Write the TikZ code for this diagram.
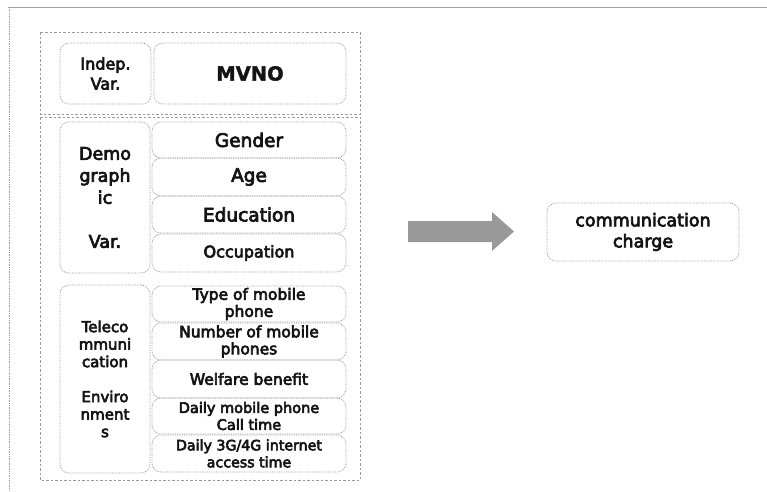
\documentclass[tikz,border=0pt]{standalone}
\usepackage{fontspec}
\setmainfont{DejaVu Sans}[FakeBold=4]
\newfontfamily\heavy{DejaVu Sans Bold}[FakeBold=1.5]
\tikzset{
  box/.style={draw=gray!85, densely dotted, line width=0.75pt, rounded corners=9pt, inner sep=0pt, align=center, text=black!92},
  grp/.style={draw=gray!80, dash pattern=on 2.5pt off 2pt, line width=0.6pt},
  bigarrow/.style={fill=gray!80, draw=none},
}
\begin{document}
\begin{tikzpicture}[x=1pt,y=-1pt]
\useasboundingbox (0,0) rectangle (767,491);
% outer frame
\draw[gray!75, line width=0.8pt] (8,7) -- (767,7);
\draw[gray!75, densely dotted, line width=0.7pt] (9,7) -- (9,491);
% groups
\draw[grp] (40,32) rectangle (360,114);
\draw[grp] (40,117) rectangle (360,480);
% independent
\node[box, minimum width=91pt, minimum height=61pt, font=\fontsize{16}{20}\selectfont] (indep) at (105.5,73.5) {Indep.\\Var.};
\node[box, minimum width=192pt, minimum height=61pt, font=\fontsize{19.5}{24}\heavy] (mvno) at (250,73.5) {MVNO};
% demographic
\node[box, minimum width=90pt, minimum height=151pt, font=\fontsize{17.5}{22}\selectfont] (demo) at (105,197.5) {Demo\\graph\\ic\\[22pt]Var.};
\node[box, minimum width=194pt, minimum height=36pt, font=\fontsize{18.5}{22}\selectfont] (gender) at (249,140) {Gender};
\node[box, minimum width=194pt, minimum height=38pt, font=\fontsize{18.5}{22}\selectfont] (age) at (249,177) {Age};
\node[box, minimum width=194pt, minimum height=37pt, font=\fontsize{18.5}{22}\selectfont] (edu) at (249,214.5) {Education};
\node[box, minimum width=194pt, minimum height=38pt, font=\fontsize{16}{19}\selectfont] (occ) at (249,253) {Occupation};
% telecom
\node[box, minimum width=90pt, minimum height=188pt, font=\fontsize{15}{17.5}\selectfont] (tel) at (105,379) {Teleco\\mmuni\\cation\\[17.5pt]Enviro\\nment\\s};
\node[box, minimum width=194pt, minimum height=36pt, font=\fontsize{15.5}{17}\selectfont] (type) at (249,304) {Type of mobile\\phone};
\node[box, minimum width=194pt, minimum height=37pt, font=\fontsize{15.5}{17}\selectfont] (num) at (249,341.5) {Number of mobile\\phones};
\node[box, minimum width=194pt, minimum height=38pt, font=\fontsize{15.5}{17}\selectfont] (wel) at (249,379) {Welfare benefit};
\node[box, minimum width=194pt, minimum height=36pt, font=\fontsize{14.5}{17}\selectfont] (call) at (249,416) {Daily mobile phone\\Call time};
\node[box, minimum width=194pt, minimum height=37pt, font=\fontsize{14.2}{17}\selectfont] (net) at (249,453.5) {Daily 3G/4G internet\\access time};
% result
\node[box, minimum width=192pt, minimum height=58pt, font=\fontsize{17.5}{21}\selectfont] (comm) at (643,232) {communication\\charge};
% arrow
\fill[bigarrow] (408,221) -- (492,221) -- (492,212) -- (514,231.5) -- (492,251) -- (492,242) -- (408,242) -- cycle;
\end{tikzpicture}
\end{document}
